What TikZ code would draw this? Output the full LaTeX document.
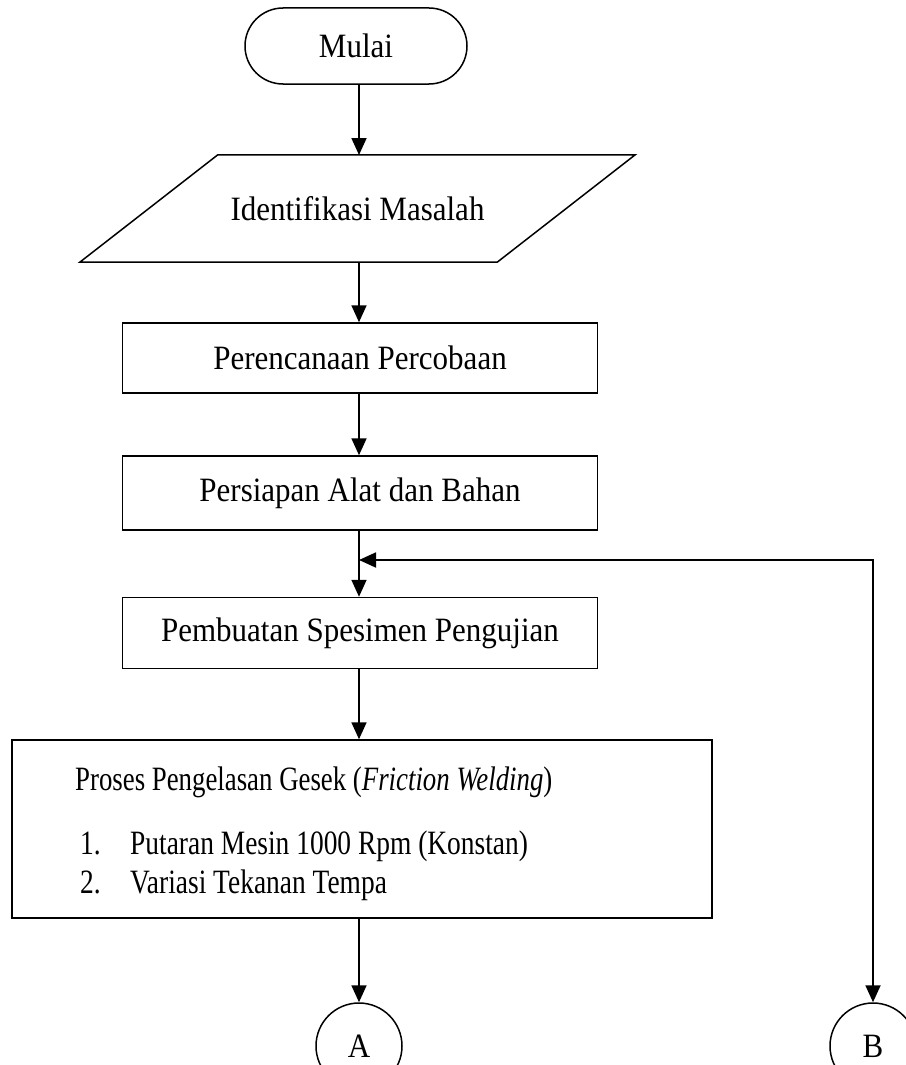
\documentclass[tikz,border=0pt]{standalone}
\usepackage{fontspec}
\setmainfont{Liberation Serif}
\usetikzlibrary{arrows.meta,calc}
\newcommand{\tx}[1]{\scalebox{1}[1.1]{#1}}
\newcommand{\cond}[2]{\scalebox{#1}[1.1]{#2}}
\begin{document}
\begin{tikzpicture}[x=1pt,y=-1pt,
  font=\fontsize{31}{37}\selectfont,
  box/.style={draw,line width=1.5pt,rectangle,inner sep=0pt},
  term/.style={draw,line width=1.5pt,rectangle,rounded corners=38pt,minimum width=222pt,minimum height=76pt},
  conn/.style={draw,line width=1.5pt,circle,minimum size=86pt,inner sep=0pt},
  arr/.style={line width=1.8pt,-{Triangle[length=17pt,width=15pt]}},
  darr/.style={line width=1.8pt,{Triangle[length=17pt,width=15pt]}-{Triangle[length=17pt,width=15pt]}}]
\useasboundingbox (0,0) rectangle (905,1065);
\node[term] (mulai) at (356,46) {\tx{Mulai}};
\node[minimum width=417pt,minimum height=107pt,inner sep=0pt] (ident) at (357.5,208.5) {\tx{Identifikasi Masalah}};
\draw[line width=1.5pt] ($(ident.north west)+(69,0)$) -- ($(ident.north east)+(69,0)$) -- ($(ident.south east)+(-69,0)$) -- ($(ident.south west)+(-69,0)$) -- cycle;
\node[box,minimum width=475pt,minimum height=70pt] (p1) at (360,358) {\tx{Perencanaan Percobaan}};
\node[box,minimum width=475pt,minimum height=74pt] (p2) at (360,493) {\tx{Persiapan Alat dan Bahan}};
\node[box,minimum width=475pt,minimum height=71pt] (p3) at (360,633) {\tx{Pembuatan Spesimen Pengujian}};
\node[box,minimum width=700pt,minimum height=178pt] (p4) at (362,829) {};
\node[anchor=base west,inner sep=0pt] (t4) at (75,790) {\cond{0.865}{Proses Pengelasan Gesek (\textit{Friction Welding})}};
\node[anchor=base west,inner sep=0pt] (i1) at (80,854) {\cond{0.885}{1.}};
\node[anchor=base west,inner sep=0pt] (i1t) at (130,854) {\cond{0.885}{Putaran Mesin 1000 Rpm (Konstan)}};
\node[anchor=base west,inner sep=0pt] (i2) at (80,893) {\cond{0.885}{2.}};
\node[anchor=base west,inner sep=0pt] (i2t) at (130,893) {\cond{0.885}{Variasi Tekanan Tempa}};
\node[conn] (A) at (359,1046) {\tx{A}};
\node[conn] (B) at (873,1046) {\tx{B}};
\coordinate (j) at (359,560);
\draw[arr] (mulai.south -| 359,0) -- (359,155);
\draw[arr] (359,262) -- (p1.north -| 359,0);
\draw[arr] (p1.south -| 359,0) -- (p2.north -| 359,0);
\draw[arr] (p2.south -| 359,0) -- (p3.north -| 359,0);
\draw[arr] (p3.south -| 359,0) -- (p4.north -| 359,0);
\draw[arr] (p4.south -| 359,0) -- (A.north);
\draw[darr] (j) -- (873,560) -- (B.north);
\end{tikzpicture}
\end{document}
